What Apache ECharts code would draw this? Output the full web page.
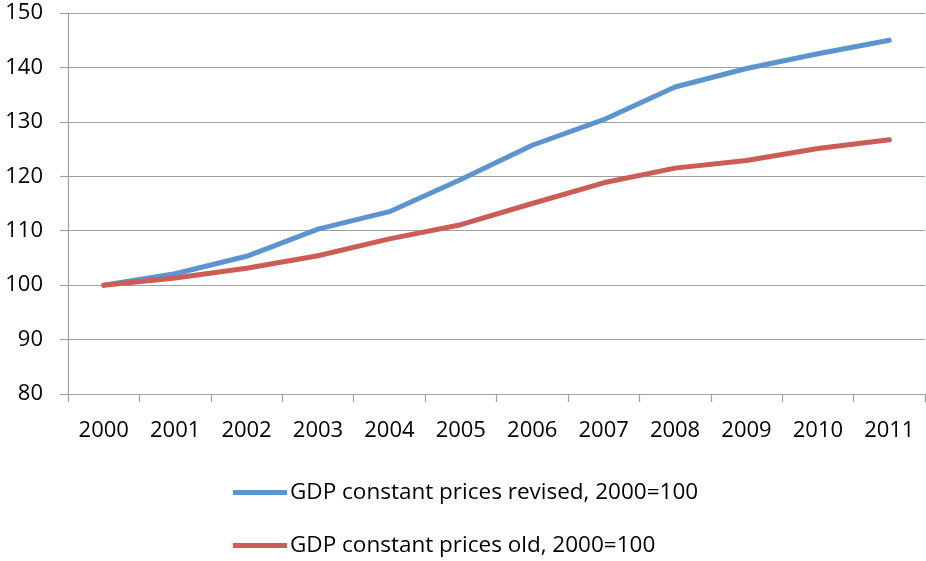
<!DOCTYPE html>
<html>
<head>
<meta charset="utf-8">
<script src="https://cdn.jsdelivr.net/npm/echarts@6/dist/echarts.min.js"></script>
<style>
  html, body { margin: 0; padding: 0; background: #ffffff; }
  #chart { width: 926px; height: 561px; }
</style>
</head>
<body>
<div id="chart"></div>
<script>
// Years on the category axis
const years = ['2000', '2001', '2002', '2003', '2004', '2005', '2006', '2007', '2008', '2009', '2010', '2011'];

// Index values, 2000 = 100
const gdpRevised = [100, 102.1, 105.3, 110.3, 113.5, 119.4, 125.7, 130.4, 136.4, 139.8, 142.5, 145.0];
const gdpOld = [100, 101.3, 103.1, 105.4, 108.5, 111.1, 115.0, 118.8, 121.5, 122.9, 125.1, 126.7];

const seriesNames = ['GDP constant prices revised, 2000=100', 'GDP constant prices old, 2000=100'];

const FONT = '"Open Sans", "DejaVu Sans", sans-serif';
const GRID_GREY = '#a0a0a0';
const BLUE = '#5b94ce';
const RED = '#cc5c56';

// One legend block per series, stacked one above the other
function legendRow(name, top) {
  return {
    orient: 'horizontal',
    left: 228,
    top: top,
    itemWidth: 54,
    itemHeight: 5,
    icon: 'rect',
    data: [name],
    textStyle: { fontFamily: FONT, fontSize: 22.5, color: '#000000', padding: [0, 0, 0, -2] }
  };
}

const chart = echarts.init(document.getElementById('chart'), null, { renderer: 'canvas' });

chart.setOption({
  animation: false,
  backgroundColor: '#ffffff',
  grid: { left: 68, right: 1, top: 13, bottom: 167, containLabel: false },
  legend: [legendRow(seriesNames[0], 476), legendRow(seriesNames[1], 529)],
  xAxis: {
    type: 'category',
    data: years,
    boundaryGap: true,
    axisLine: { show: true, lineStyle: { color: GRID_GREY, width: 1.2 } },
    axisTick: { show: true, length: 8, alignWithLabel: false, lineStyle: { color: GRID_GREY, width: 1.2 } },
    axisLabel: { margin: 26, fontFamily: FONT, fontSize: 22, color: '#000000' },
    splitLine: { show: false }
  },
  yAxis: {
    type: 'value',
    min: 80,
    max: 150,
    interval: 10,
    axisLine: { show: true, lineStyle: { color: GRID_GREY, width: 1.2 } },
    axisTick: { show: true, length: 8, lineStyle: { color: GRID_GREY, width: 1.2 } },
    axisLabel: { margin: 25, fontFamily: FONT, fontSize: 22, color: '#000000' },
    splitLine: { show: true, lineStyle: { color: GRID_GREY, width: 1.2 } }
  },
  series: [
    {
      name: seriesNames[0],
      type: 'line',
      data: gdpRevised,
      symbol: 'none',
      color: BLUE,
      lineStyle: { color: BLUE, width: 5, cap: 'round', join: 'round' },
      z: 3
    },
    {
      name: seriesNames[1],
      type: 'line',
      data: gdpOld,
      symbol: 'none',
      color: RED,
      lineStyle: { color: RED, width: 5, cap: 'round', join: 'round' },
      z: 4
    }
  ]
});
</script>
</body>
</html>
